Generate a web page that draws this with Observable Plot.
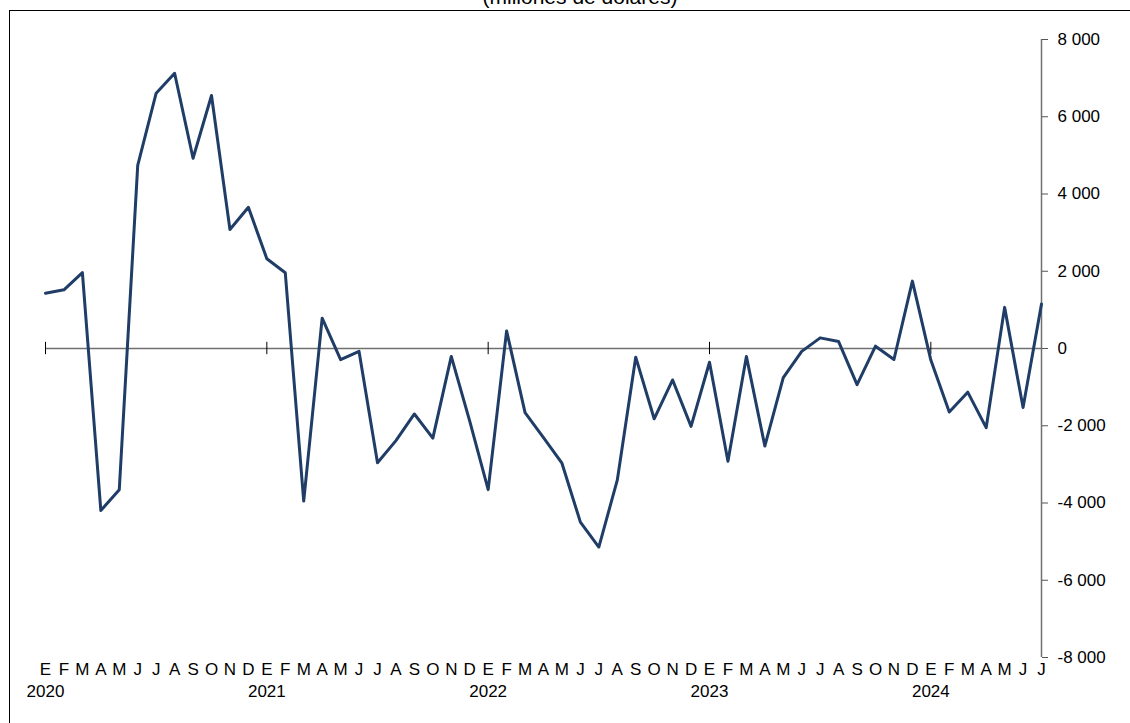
<!DOCTYPE html>
<html>
<head>
<meta charset="utf-8">
<script src="https://cdn.jsdelivr.net/npm/d3@7"></script>
<script src="https://cdn.jsdelivr.net/npm/@observablehq/plot@0.6"></script>
<style>
  html, body { margin: 0; padding: 0; background: #fff; overflow: hidden; }
  #wrap { position: relative; width: 1130px; height: 723px; overflow: hidden; font-family: "Liberation Sans", Arial, sans-serif; }
  #frame { position: absolute; left: 9px; top: 10px; width: 1300px; height: 900px; border-left: 1px solid #000; border-top: 1px solid #000; pointer-events: none; }
  #title { position: absolute; left: 0; top: -15px; width: 1160px; text-align: center; font-size: 21px; color: #000; }
  #chart { position: absolute; left: 0; top: 0; }
</style>
</head>
<body>
<div id="wrap">
  <div id="chart"></div>
  <div id="frame"></div>
  <div id="title">(millones de dólares)</div>
</div>
<script>
// Month initials (Spanish)
const monthLetters = ["E","F","M","A","M","J","J","A","S","O","N","D"];
// Year labels (placed under each January)
const yearLabels = ["2020","2021","2022","2023","2024"];
// Monthly values, Jan 2020 – Jul 2024 (millones de dólares)
const values = [
  1430, 1520, 1965, -4195, -3655, 4740, 6610, 7125, 4925, 6550, 3080, 3655,
  2325, 1960, -3950, 785, -290, -75, -2960, -2385, -1695, -2320, -205, -1880,
  -3655, 455, -1660, -2305, -2970, -4495, -5140, -3410, -225, -1820, -815, -2015,
  -355, -2920, -205, -2525, -755, -75, 275, 180, -935, 60, -285, 1745,
  -300, -1645, -1130, -2050, 1065, -1530, 1150
];
// Y axis ticks
const yTicks = [-8000, -6000, -4000, -2000, 0, 2000, 4000, 6000, 8000];

const data = values.map((v, i) => ({i, v}));
const monthIdx = d3.range(values.length);
const janIdx = monthIdx.filter(i => i % 12 === 0);
const lastIdx = values.length - 1;

const fmt = d3.formatLocale({decimal: ",", thousands: " ", grouping: [3], currency: ["$", ""], minus: "-"}).format(",");

const chart = Plot.plot({
  width: 1130,
  height: 723,
  marginLeft: 45,
  marginRight: 89,
  marginTop: 39,
  marginBottom: 66,
  x: {domain: [0, lastIdx]},
  y: {domain: [yTicks[0], yTicks[yTicks.length - 1]]},
  style: {fontFamily: "'Liberation Sans', Arial, sans-serif", fontSize: "17px", color: "#000", background: "transparent", overflow: "visible"},
  marks: [
    Plot.ruleX([lastIdx], {y1: yTicks[0], y2: yTicks[yTicks.length - 1], stroke: "#707070", strokeWidth: 1.5}),
    Plot.ruleY([0], {stroke: "#707070", strokeWidth: 1.5}),
    Plot.ruleX(janIdx, {y1: -160, y2: 160, stroke: "#000", strokeWidth: 1}),
    Plot.axisY({anchor: "right", label: null, ticks: yTicks, tickFormat: fmt, tickSize: 6, tickPadding: 10, stroke: "#555"}),
    Plot.axisX({label: null, ticks: monthIdx, tickFormat: i => monthLetters[i % 12], tickSize: 0, tickPadding: 5}),
    Plot.axisX({label: null, ticks: janIdx, tickFormat: i => yearLabels[i / 12], tickSize: 0, tickPadding: 27}),
    Plot.line(data, {x: "i", y: "v", stroke: "#1F3D66", strokeWidth: 3, strokeLinejoin: "round"})
  ]
});
document.getElementById("chart").appendChild(chart);
</script>
</body>
</html>
